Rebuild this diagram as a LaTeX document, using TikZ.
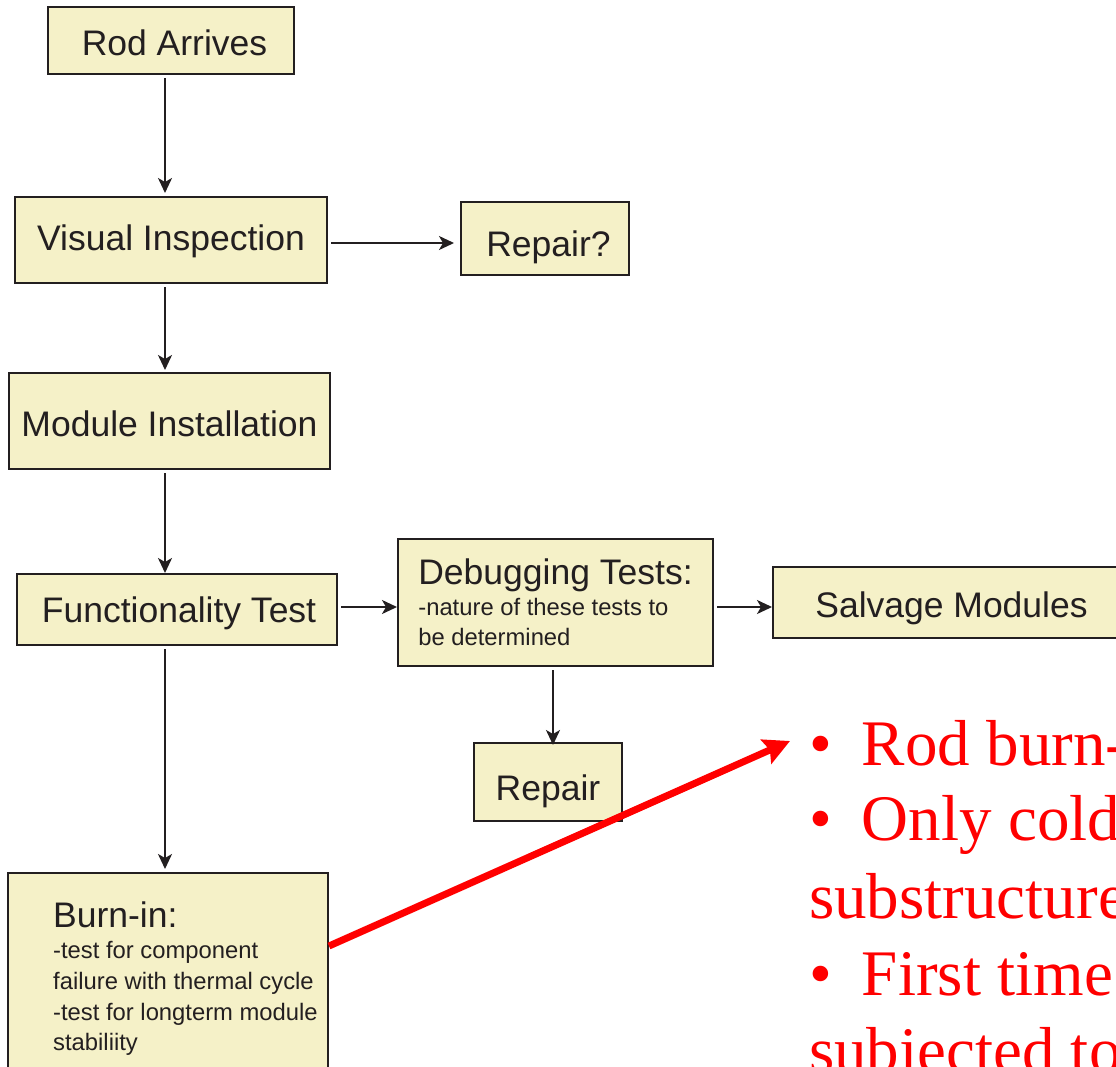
\documentclass[tikz,border=0pt]{standalone}
\usepackage{fontspec}
\setmainfont{Liberation Sans}
\newfontfamily\serifredfam{Liberation Serif}
\usetikzlibrary{arrows.meta}
\definecolor{boxfill}{RGB}{245,241,200}
\definecolor{ink}{RGB}{35,31,32}
\definecolor{redtxt}{RGB}{255,0,0}
\newcommand\fbigx{\fontsize{35.5}{40}\selectfont}
\newcommand\fsmallx{\fontsize{23.8}{30.7}\selectfont}
\newcommand\fredx{\serifredfam\fontsize{65}{77}\selectfont}
\begin{document}
\begin{tikzpicture}[x=1pt,y=-1pt,
  box/.style={draw=ink, line width=2pt, fill=boxfill, inner sep=0pt, text=ink, font=\fbigx},
  one/.style={box, text height=#1, text depth=0pt},
  txt/.style={text=ink, inner sep=0pt, font=\fsmallx},
  arr/.style={draw=ink, line width=1.8pt, -{Stealth[length=15pt,width=14pt,inset=4pt]}, shorten <=3pt},
  redarr/.style={draw=redtxt, line width=7pt, -{Stealth[length=26pt,width=26pt,inset=4pt]}},
  redt/.style={text=redtxt, font=\fredx, inner sep=0pt, anchor=base west}]
\useasboundingbox (0,0) rectangle (1116,1066);
\clip (0,0) rectangle (1116,1066);
\fill[white] (0,0) rectangle (1116,1066);
\coordinate (colx) at (165,0);

% boxes
\node[one=29pt, minimum width=246pt, minimum height=67pt] (rod) at (171,40.5) {\hspace{7pt}Rod Arrives};
\node[one=20pt, minimum width=312pt, minimum height=86pt] (vis) at (171,240) {Visual Inspection\hspace{10pt}};
\node[one=35pt, minimum width=168pt, minimum height=73pt] (rep1) at (545,238.5) {\hspace{7pt}Repair?};
\node[one=30pt, minimum width=321pt, minimum height=96pt] (mod) at (169.5,421) {Module Installation};
\node[one=25pt, minimum width=320pt, minimum height=71pt] (func) at (177,609.5) {\hspace{4pt}Functionality Test};
\node[box, minimum width=315pt, minimum height=127pt, align=left, font=\fsmallx] (dbg) at (555.5,602.5)
  {{\fbigx Debugging Tests:}\\-nature of these tests to\\be determined};
\node[one=30pt, minimum width=357pt, minimum height=71pt] (salv) at (951.5,602.5) {Salvage Modules};
\node[one=36pt, minimum width=148pt, minimum height=78pt] (rep2) at (548,782) {Repair};
\node[box, minimum width=320pt, minimum height=208pt] (burn) at (168,977) {};
\node[txt, anchor=north west, align=left] (burntxt) at (53,902)
  {{\fbigx Burn-in:}\\-test for component\\failure with thermal cycle\\-test for longterm module\\stabiliity};

% connectors
\draw[arr, shorten >=3pt] (rod.south -| colx) -- (vis.north -| colx);
\draw[arr, shorten >=2pt] (vis.south -| colx) -- (mod.north -| colx);
\draw[arr] (mod.south -| colx) -- (func.north -| colx);
\draw[arr, shorten >=3pt] (func.south -| colx) -- (burn.north -| colx);
\draw[arr, shorten >=6pt] ([yshift=-3pt]vis.east) -- ([yshift=-3pt]vis.east -| rep1.west);
\draw[arr] ([yshift=2.5pt]func.east) -- ([yshift=2.5pt]func.east -| dbg.west);
\draw[arr] ([yshift=-4.5pt]dbg.east) -- ([yshift=-4.5pt]dbg.east -| salv.west);
\draw[arr, shorten >=-3pt] ([xshift=-2.5pt]dbg.south) -- ([xshift=-2.5pt]dbg.south |- rep2.north);

% red annotation
\coordinate (re) at (790,741);
\draw[redarr] ([yshift=31pt]burn.east) -- (re);
\node[redt] (r1) at (809,765) {•\hspace{30pt}Rod burn-};
\node[redt] (r2) at (809,840) {•\hspace{30pt}Only cold};
\node[redt] (r3) at (809,918) {substructure};
\node[redt] (r4) at (809,995) {•\hspace{30pt}First time};
\node[redt] (r5) at (809,1072) {subjected to};
\end{tikzpicture}
\end{document}
